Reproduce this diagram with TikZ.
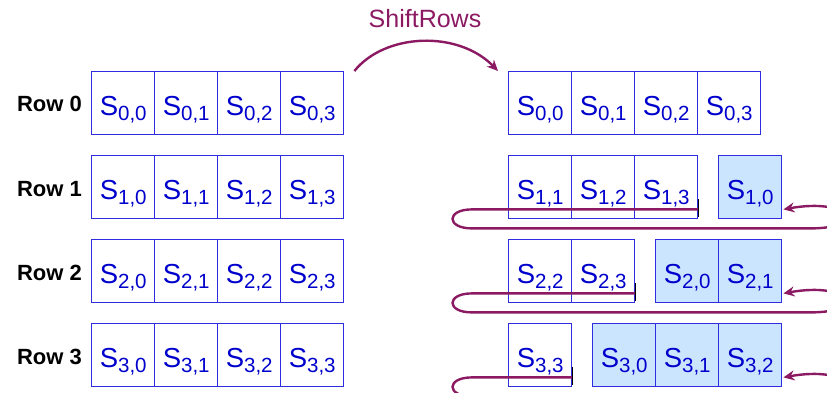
\documentclass[tikz,border=0pt]{standalone}
\usepackage{fontspec}
\setmainfont{Liberation Sans}
\usetikzlibrary{arrows.meta}
\definecolor{cellblue}{HTML}{2E2EE0}
\definecolor{textblue}{HTML}{0000CC}
\definecolor{fillblue}{HTML}{CCE5FF}
\definecolor{maroon}{HTML}{8B1A62}
\newcommand{\cellS}[2]{S\raisebox{-4.5pt}{\fontsize{20.5}{20.5}\selectfont #1,#2}}
\tikzset{
  cellbox/.style={draw=cellblue, line width=1.4pt, minimum width=63pt, minimum height=63pt,
    inner sep=0pt, anchor=north west, text=textblue, font=\fontsize{27.5}{27.5}\selectfont,
    text height=25pt, text depth=0pt},
  shifted/.style={cellbox, fill=fillblue},
  rowlabel/.style={anchor=base east, font=\fontsize{22}{22}\selectfont\bfseries, inner sep=0pt},
  loopline/.style={draw=maroon, line width=2.4pt, -{Stealth[length=11pt,width=10pt]}},
  tickline/.style={draw=black, line width=1.8pt},
}
\begin{document}
\begin{tikzpicture}[x=1pt,y=-1pt]
\useasboundingbox (0,0) rectangle (827,393);
\clip (0,0) rectangle (827,393);
% left grid
\foreach \r/\y in {0/71,1/155,2/239,3/323}{
  \node[rowlabel] (row\r) at (82,\y+41) {Row \r};
  \foreach \c in {0,1,2,3}{
    \node[cellbox] (L\r\c) at (91+63*\c,\y) {\cellS{\r}{\c}};
  }
}
% right grid
\foreach \c in {0,1,2,3}{
  \node[cellbox] (R0\c) at (508+63*\c,71) {\cellS{0}{\c}};
}
\node[cellbox] (R11) at (508,155) {\cellS{1}{1}};
\node[cellbox] (R12) at (571,155) {\cellS{1}{2}};
\node[cellbox] (R13) at (634,155) {\cellS{1}{3}};
\node[shifted] (R10) at (718,155) {\cellS{1}{0}};
\node[cellbox] (R22) at (508,239) {\cellS{2}{2}};
\node[cellbox] (R23) at (571,239) {\cellS{2}{3}};
\node[shifted] (R20) at (655,239) {\cellS{2}{0}};
\node[shifted] (R21) at (718,239) {\cellS{2}{1}};
\node[cellbox] (R33) at (508,323) {\cellS{3}{3}};
\node[shifted] (R30) at (592,323) {\cellS{3}{0}};
\node[shifted] (R31) at (655,323) {\cellS{3}{1}};
\node[shifted] (R32) at (718,323) {\cellS{3}{2}};
% title arrow
\node[text=maroon, font=\fontsize{25}{25}\selectfont, anchor=base, inner sep=0pt] (title) at (425,28) {ShiftRows};
\draw[loopline] ([xshift=10pt]L03.north east) .. controls (385,33) and (458,30) .. ([xshift=-10pt]R00.north west);
% loops
\foreach \w/\b in {R13/R10,R23/R21,R33/R32}{
  \draw[loopline] ([yshift=10pt]\w.south east) -- ([yshift=10pt]\w.south east -| 472,0)
    .. controls ([yshift=10pt]\w.south east -| 446,0) and ([yshift=-9pt]\w.south east -| 446,0)
    .. ([yshift=-9pt]\w.south east -| 472,0) -- ([yshift=-9pt]\w.south east -| 810,0)
    .. controls ([yshift=-9pt]\w.south east -| 870,0) and ([yshift=22pt]\w.south east -| 850,0)
    .. ([xshift=1pt,yshift=10pt]\b.south east);
  \draw[tickline] ([yshift=20pt]\w.south east) -- ([yshift=2pt]\w.south east);
}
\end{tikzpicture}
\end{document}
